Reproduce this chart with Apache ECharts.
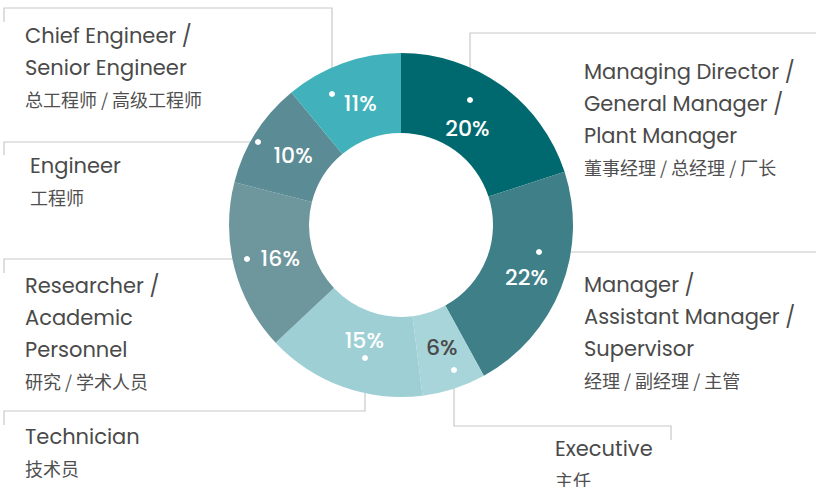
<!DOCTYPE html>
<html>
<head>
<meta charset="utf-8">
<script src="https://cdn.jsdelivr.net/npm/echarts@6/dist/echarts.min.js"></script>
<style>
  html, body { margin: 0; padding: 0; background: #ffffff; }
  #chart { width: 816px; height: 487px; }
</style>
</head>
<body>
<div id="chart"></div>
<script>
// ---- data ----
var categoriesEn = [
  'Managing Director /\nGeneral Manager /\nPlant Manager',
  'Manager /\nAssistant Manager /\nSupervisor',
  'Executive',
  'Technician',
  'Researcher /\nAcademic\nPersonnel',
  'Engineer',
  'Chief Engineer /\nSenior Engineer'
];
var categoriesZh = [
  '董事经理 / 总经理 / 厂长',
  '经理 / 副经理 / 主管',
  '主任',
  '技术员',
  '研究 / 学术人员',
  '工程师',
  '总工程师 / 高级工程师'
];
var shares = [20, 22, 6, 15, 16, 10, 11];

// ---- styles / layout (not data) ----
var sliceColors = ['#006970', '#3e7f88', '#a8d5d9', '#9dcfd4', '#6e969d', '#5b8b94', '#41b2bc'];
var pctColors = ['#ffffff', '#ffffff', '#4a4a4a', '#ffffff', '#ffffff', '#ffffff', '#ffffff'];
var pctOffsets = [[-13, 13], [0, 3], [-1, -6], [9, -12], [10, 0], [6, 3], [5, 6]];
var labelPos = [[584, 55], [584, 268], [555, 432], [25, 420], [25, 269], [30, 149], [25, 19]];
var guides = [
  [[470, 100], [470, 33], [816, 33]],
  [[539, 252], [816, 252]],
  [[454, 370], [454, 426], [671, 426], [671, 440]],
  [[365, 358], [365, 411], [4, 411], [4, 425]],
  [[247, 259], [4, 259], [4, 273]],
  [[258, 142], [4, 142], [4, 155]],
  [[332, 94], [332, 8], [4, 8], [4, 22]]
];
var FONT = 'Poppins, Inter, "Noto Sans CJK SC", sans-serif';
var CENTER = [401, 225];
var RADIUS = [92, 172];

var pieData = shares.map(function (v, i) {
  return { value: v, name: categoriesEn[i], itemStyle: { color: sliceColors[i] },
           label: { color: pctColors[i] } };
});
var textData = shares.map(function (v, i) {
  return { value: v, name: categoriesEn[i] };
});

var chart = echarts.init(document.getElementById('chart'), null, { renderer: 'svg' });
chart.setOption({
  animation: false,
  backgroundColor: '#ffffff',
  series: [
    {
      type: 'pie',
      center: CENTER,
      radius: RADIUS,
      startAngle: 90,
      clockwise: true,
      silent: true,
      itemStyle: { borderWidth: 0 },
      label: {
        show: true,
        position: 'inside',
        formatter: '{c}%',
        fontFamily: FONT,
        fontSize: 22,
        fontWeight: 500
      },
      labelLine: { show: false },
      labelLayout: function (params) {
        var o = pctOffsets[params.dataIndex];
        return { dx: o[0], dy: o[1] };
      },
      data: pieData
    },
    {
      type: 'pie',
      center: CENTER,
      radius: RADIUS,
      startAngle: 90,
      clockwise: true,
      silent: true,
      itemStyle: { color: 'rgba(0,0,0,0)' },
      label: {
        show: true,
        position: 'outside',
        overflow: 'none',
        formatter: function (p) {
          return '{en|' + p.name + '}\n{zh|' + categoriesZh[p.dataIndex] + '}';
        },
        rich: {
          en: { fontFamily: FONT, fontSize: 21, lineHeight: 32, color: '#4a4a4a' },
          zh: { fontFamily: '"Noto Sans CJK SC", sans-serif', fontSize: 18, lineHeight: 32, color: '#4f4f4f' }
        }
      },
      labelLine: { show: true, lineStyle: { color: '#c8c8c8', width: 1.2 } },
      labelLayout: function (params) {
        var i = params.dataIndex;
        return {
          x: labelPos[i][0],
          y: labelPos[i][1],
          align: 'left',
          verticalAlign: 'top',
          labelLinePoints: guides[i]
        };
      },
      data: textData
    }
  ],
  graphic: guides.map(function (g) {
    return {
      type: 'circle',
      shape: { cx: g[0][0], cy: g[0][1], r: 3 },
      style: { fill: '#ffffff' },
      z: 100
    };
  })
});
</script>
</body>
</html>
